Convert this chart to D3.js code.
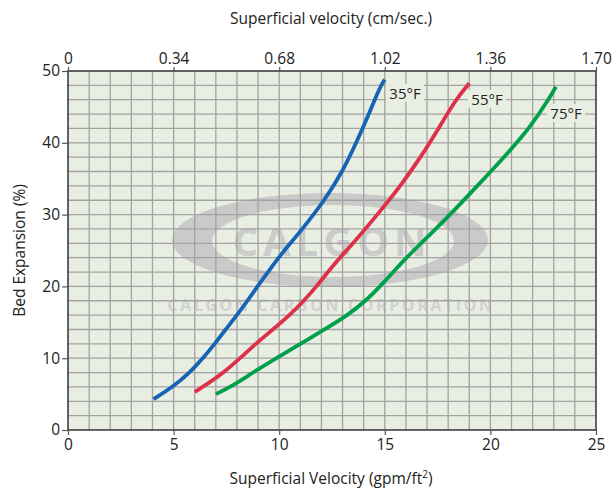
<!DOCTYPE html>
<html>
<head>
<meta charset="utf-8">
<script src="https://cdn.jsdelivr.net/npm/d3@7"></script>
<style>
  body { margin: 0; background: #fff; }
  text { font-family: "Open Sans", "Noto Sans", sans-serif; fill: #222; }
</style>
</head>
<body>
<div id="chart"></div>
<script>
// data (gpm/ft2 vs bed expansion %)
const blue35 = [[4.05,4.3],[4.97,6],[5.76,8],[6.39,10],[6.95,12],[7.46,14],[8.0,16],[8.5,18],[8.97,20],[9.47,22],[9.97,24],[10.52,26],[11.1,28],[12.15,32],[13.0,36],[13.65,40],[14.25,44],[14.8,48],[15.0,48.8]];
const red55 = [[6.0,5.3],[6.6,6.4],[7.38,8],[8.15,10],[8.88,12],[9.7,14],[10.5,16],[11.17,18],[11.77,20],[12.3,22],[12.87,24],[13.5,26],[14.65,30],[15.75,34],[16.7,38],[17.55,42],[18.35,46],[19.0,48.3]];
const green75 = [[7.0,5],[7.85,6.25],[8.75,8],[9.87,10],[11.0,12],[12.15,14],[13.25,16],[14.1,18],[14.78,20],[15.4,22],[16.02,24],[16.72,26],[18.1,30],[19.38,34],[20.65,38],[21.85,42],[22.75,46],[23.1,47.8]];
const seriesNames = ["35°F", "55°F", "75°F"];
const bottomTicks = [0, 5, 10, 15, 20, 25];
const topTicks = ["0", "0.34", "0.68", "1.02", "1.36", "1.70"];
const leftTicks = [0, 10, 20, 30, 40, 50];

const width = 613, height = 488;
const margin = { top: 71, right: 17, bottom: 58, left: 68 };

const svg = d3.select("#chart").append("svg")
    .attr("width", width)
    .attr("height", height);

const x = d3.scaleLinear().domain([0, 25]).range([margin.left, width - margin.right]);
const y = d3.scaleLinear().domain([0, 50]).range([height - margin.bottom, margin.top]);
const xTop = d3.scaleLinear().domain([0, 1.70]).range(x.range());

// plot background
svg.append("rect")
    .attr("x", x(0)).attr("y", y(50))
    .attr("width", x(25) - x(0)).attr("height", y(0) - y(50))
    .attr("fill", "#e9eee3");

// watermark (ring + lettering)
const wm = svg.append("g").attr("fill", "#c9cac9");
const outer = { cx: 330, cy: 240, rx: 158, ry: 47 };
const inner = { cx: 333, cy: 241, rx: 121, ry: 36 };
const ellD = e => `M${e.cx - e.rx},${e.cy} a${e.rx},${e.ry} 0 1,0 ${2 * e.rx},0 a${e.rx},${e.ry} 0 1,0 ${-2 * e.rx},0 Z`;
wm.append("path")
    .attr("d", ellD(outer) + " " + ellD(inner))
    .attr("fill-rule", "evenodd");
wm.append("text")
    .attr("x", 332).attr("y", 256)
    .attr("text-anchor", "middle")
    .style("font-size", "40px").style("font-weight", "bold")
    .style("letter-spacing", "5px")
    .style("fill", "#cbcccb")
    .text("CALGON");
wm.append("text")
    .attr("x", 331).attr("y", 311)
    .attr("text-anchor", "middle")
    .style("font-size", "16px").style("font-weight", "bold")
    .style("letter-spacing", "2.6px")
    .style("fill", "#d0d1d0")
    .text("CALGON CARBON CORPORATION");

// grid
const grid = svg.append("g").attr("stroke", "#a3a3a3").attr("stroke-width", 1.3);
grid.selectAll("line.v")
    .data(d3.range(1, 25))
    .enter().append("line")
    .attr("x1", d => x(d)).attr("x2", d => x(d))
    .attr("y1", y(0)).attr("y2", y(50));
grid.selectAll("line.h")
    .data(d3.range(2, 50, 2))
    .enter().append("line")
    .attr("x1", x(0)).attr("x2", x(25))
    .attr("y1", d => y(d)).attr("y2", d => y(d));

// frame
svg.append("rect")
    .attr("x", x(0)).attr("y", y(50))
    .attr("width", x(25) - x(0)).attr("height", y(0) - y(50))
    .attr("fill", "none").attr("stroke", "#333").attr("stroke-width", 1.5);

// axes
const axisStyle = g => {
    g.select(".domain").remove();
    g.selectAll(".tick line").attr("stroke", "#555").attr("stroke-width", 1.2);
    g.selectAll(".tick text").style("font-size", "15.5px").style("font-family", "'Open Sans', sans-serif").attr("fill", "#222");
};
svg.append("g")
    .attr("transform", `translate(0,${y(0)})`)
    .call(d3.axisBottom(x).tickValues(bottomTicks).tickSize(5).tickPadding(4))
    .call(axisStyle);
svg.append("g")
    .attr("transform", `translate(0,${y(50)})`)
    .call(d3.axisTop(xTop).tickValues(topTicks.map(Number)).tickFormat((d, i) => topTicks[i]).tickSize(4).tickPadding(3))
    .call(axisStyle);
svg.append("g")
    .attr("transform", `translate(${x(0)},0)`)
    .call(d3.axisLeft(y).tickValues(leftTicks).tickSize(6).tickPadding(2))
    .call(axisStyle);

// axis titles
svg.append("text")
    .attr("x", 331).attr("y", 24)
    .attr("text-anchor", "middle")
    .style("font-size", "15.5px")
    .text("Superficial velocity (cm/sec.)");
const bt = svg.append("text")
    .attr("x", 331).attr("y", 484)
    .attr("text-anchor", "middle")
    .style("font-size", "15.5px");
bt.append("tspan").text("Superficial Velocity (gpm/ft");
bt.append("tspan").attr("dy", -6).style("font-size", "10px").text("2");
bt.append("tspan").attr("dy", 6).text(")");
svg.append("text")
    .attr("transform", `translate(25,${(y(0) + y(50)) / 2}) rotate(-90)`)
    .attr("text-anchor", "middle")
    .style("font-size", "15.5px")
    .text("Bed Expansion (%)");

// curves
const line = d3.line()
    .x(d => x(d[0]))
    .y(d => y(d[1]))
    .curve(d3.curveBasis);
const series = [
    { data: blue35, color: "#1564b3", name: seriesNames[0], lx: 405, ly: 93 },
    { data: red55, color: "#dc3149", name: seriesNames[1], lx: 487, ly: 99 },
    { data: green75, color: "#00a04b", name: seriesNames[2], lx: 566, ly: 113 }
];
svg.selectAll("path.curve")
    .data(series)
    .enter().append("path")
    .attr("class", "curve")
    .attr("d", d => line(d.data))
    .attr("fill", "none")
    .attr("stroke", d => d.color)
    .attr("stroke-width", 3.8)
    .attr("stroke-linecap", "butt");

// labels with background patches
const labels = svg.selectAll("g.lab")
    .data(series)
    .enter().append("g")
    .attr("class", "lab");
labels.append("rect")
    .attr("x", d => d.lx - 19).attr("y", d => d.ly - 9)
    .attr("width", 38).attr("height", 18)
    .attr("fill", "#e9eee3");
labels.append("text")
    .attr("x", d => d.lx).attr("y", d => d.ly + 5.5)
    .attr("text-anchor", "middle")
    .style("font-size", "15px")
    .text(d => d.name);
</script>
</body>
</html>
